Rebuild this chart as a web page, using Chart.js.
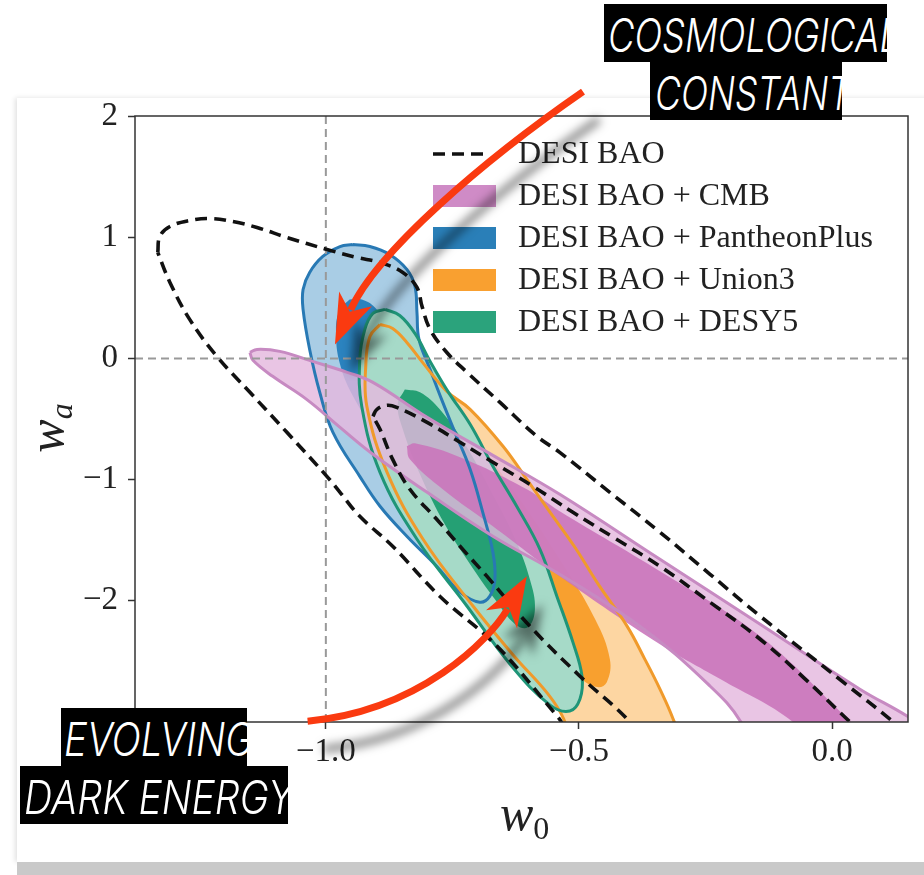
<!DOCTYPE html>
<html>
<head>
<meta charset="utf-8">
<script src="https://cdn.jsdelivr.net/npm/chart.js@4.4.1/dist/chart.umd.min.js"></script>
<style>
  html, body { margin: 0; padding: 0; background: #fff; }
  body { width: 924px; height: 875px; position: relative; overflow: hidden; }
  #card { position: absolute; left: 17px; top: 98px; width: 920px; height: 764px; background: #fff; box-shadow: -2px 0 5px rgba(0,0,0,0.12); }
  #floor { position: absolute; left: 17px; top: 862px; width: 907px; height: 13px; background: #c9c9c9; }
  #chart { position: absolute; left: 0; top: 0; }
  .tag { position: absolute; background: #000; color: #fff; overflow: hidden; white-space: nowrap; }
  .tag span { position: absolute; top: 7px; font-family: 'Inter', 'DejaVu Sans'; font-style: italic; font-weight: 300; font-size: 47px; line-height: 1; transform-origin: 0 50%; }
  .axt { position: absolute; font-family: 'Liberation Serif'; font-style: italic; color: #222; font-size: 50px; line-height: 1; white-space: nowrap; }
  .axt sub { font-style: normal; font-size: 32px; vertical-align: baseline; position: relative; top: 9px; }
</style>
</head>
<body>
<div id="card"></div>
<div id="floor"></div>
<canvas id="chart" width="924" height="875"></canvas>
<div class="axt" id="xt"><i>w</i><sub>0</sub></div>
<div class="axt" id="yt"><i>w</i><sub style="font-style:italic">a</sub></div>
<script>
// axis ranges and ticks
const w0Range = [-1.377, 0.150];
const waRange = [-3, 2];
const w0Ticks = [-1.0, -0.5, 0.0];
const w0TickLabels = ['−1.0', '−0.5', '0.0'];
const waTicks = [-2, -1, 0, 1, 2];
const waTickLabels = ['−2', '−1', '0', '1', '2'];
const lambdaW0 = -1;
const lambdaWa = 0;

const legendLabels = ['DESI BAO', 'DESI BAO + CMB', 'DESI BAO + PantheonPlus', 'DESI BAO + Union3', 'DESI BAO + DESY5'];

// contours, [w0, wa]
const bao95 = [[-1.332,0.874],[-1.328,1.006],[-1.308,1.088],[-1.269,1.138],[-1.229,1.154],[-1.184,1.129],[-1.136,1.080],[-1.077,0.998],[-0.998,0.899],[-0.939,0.833],[-0.893,0.791],[-0.848,0.709],[-0.820,0.585],[-0.810,0.429],[-0.794,0.239],[-0.761,0.049],[-0.721,-0.115],[-0.656,-0.363],[-0.583,-0.643],[-0.538,-0.775],[-0.439,-1.105],[-0.340,-1.434],[-0.241,-1.781],[-0.142,-2.127],[0.022,-2.671],[0.121,-3.001],[0.170,-3.200],[-0.492,-3.200],[-0.543,-2.951],[-0.662,-2.374],[-0.775,-1.962],[-0.868,-1.550],[-0.933,-1.303],[-0.972,-1.105],[-0.998,-0.973],[-1.077,-0.610],[-1.150,-0.280],[-1.215,0.016],[-1.269,0.322],[-1.308,0.627]];
const bao68 = [[-0.907,-0.478],[-0.899,-0.420],[-0.879,-0.387],[-0.860,-0.404],[-0.800,-0.528],[-0.735,-0.692],[-0.670,-0.857],[-0.591,-1.055],[-0.512,-1.270],[-0.429,-1.484],[-0.340,-1.715],[-0.241,-2.012],[-0.142,-2.317],[-0.053,-2.646],[0.036,-3.001],[0.090,-3.200],[-0.370,-3.200],[-0.399,-3.001],[-0.498,-2.622],[-0.597,-2.209],[-0.682,-1.797],[-0.735,-1.550],[-0.781,-1.327],[-0.834,-1.080],[-0.868,-0.833],[-0.893,-0.585]];
const cmb95 = [[-1.150,0.049],[-1.136,0.074],[-1.091,0.058],[-1.026,-0.025],[-0.958,-0.115],[-0.907,-0.198],[-0.800,-0.486],[-0.670,-0.800],[-0.538,-1.121],[-0.340,-1.657],[-0.142,-2.193],[0.055,-2.729],[0.148,-2.951],[0.213,-3.141],[0.253,-3.388],[-0.142,-3.388],[-0.180,-3.001],[-0.245,-2.688],[-0.377,-2.218],[-0.538,-1.781],[-0.670,-1.467],[-0.800,-1.105],[-0.907,-0.791],[-0.972,-0.569],[-1.038,-0.338],[-1.105,-0.148],[-1.144,-0.016]];
const cmb68 = [[-0.840,-0.725],[-0.824,-0.701],[-0.735,-0.816],[-0.603,-1.080],[-0.538,-1.261],[-0.340,-1.756],[-0.142,-2.292],[0.036,-2.993],[0.095,-3.223],[-0.043,-3.223],[-0.077,-3.001],[-0.221,-2.646],[-0.340,-2.358],[-0.538,-1.797],[-0.670,-1.385],[-0.769,-1.080],[-0.834,-0.833]];
const pan95 = [[-0.947,0.940],[-0.913,0.923],[-0.874,0.857],[-0.840,0.734],[-0.824,0.594],[-0.820,0.379],[-0.816,0.157],[-0.794,-0.091],[-0.769,-0.363],[-0.745,-0.610],[-0.715,-0.915],[-0.690,-1.270],[-0.670,-1.599],[-0.666,-1.822],[-0.676,-1.962],[-0.696,-2.012],[-0.735,-1.929],[-0.781,-1.715],[-0.840,-1.467],[-0.893,-1.220],[-0.933,-0.973],[-0.986,-0.610],[-1.012,-0.280],[-1.032,0.074],[-1.045,0.404],[-1.045,0.569],[-1.032,0.709],[-1.006,0.841],[-0.972,0.923]];
const pan68 = [[-0.953,0.486],[-0.929,0.486],[-0.903,0.420],[-0.874,0.239],[-0.834,-0.173],[-0.775,-0.750],[-0.725,-1.327],[-0.715,-1.616],[-0.735,-1.674],[-0.775,-1.492],[-0.834,-1.080],[-0.893,-0.668],[-0.943,-0.338],[-0.972,-0.049],[-0.980,0.239],[-0.972,0.404]];
const uni95 = [[-0.893,0.280],[-0.868,0.247],[-0.840,0.132],[-0.809,-0.033],[-0.761,-0.272],[-0.715,-0.420],[-0.650,-0.725],[-0.603,-0.998],[-0.557,-1.270],[-0.508,-1.558],[-0.462,-1.863],[-0.405,-2.209],[-0.370,-2.481],[-0.340,-2.729],[-0.314,-2.976],[-0.281,-3.388],[-0.496,-3.388],[-0.530,-2.976],[-0.561,-2.770],[-0.628,-2.457],[-0.709,-2.045],[-0.808,-1.492],[-0.879,-0.940],[-0.919,-0.396],[-0.921,-0.049],[-0.913,0.181]];
const uni68 = [[-0.731,-0.602],[-0.700,-0.701],[-0.617,-1.162],[-0.538,-1.657],[-0.468,-2.152],[-0.439,-2.481],[-0.445,-2.671],[-0.464,-2.712],[-0.498,-2.630],[-0.538,-2.399],[-0.617,-1.904],[-0.696,-1.410],[-0.735,-1.039],[-0.745,-0.750]];
const des95 = [[-0.883,0.404],[-0.854,0.354],[-0.824,0.206],[-0.794,-0.025],[-0.759,-0.272],[-0.715,-0.544],[-0.670,-0.890],[-0.623,-1.220],[-0.577,-1.575],[-0.543,-1.970],[-0.512,-2.341],[-0.494,-2.622],[-0.498,-2.811],[-0.518,-2.910],[-0.557,-2.861],[-0.636,-2.523],[-0.721,-2.045],[-0.820,-1.492],[-0.893,-0.940],[-0.929,-0.396],[-0.933,-0.008],[-0.923,0.239],[-0.907,0.371]];
const des68 = [[-0.844,-0.256],[-0.814,-0.280],[-0.775,-0.420],[-0.725,-0.709],[-0.676,-1.080],[-0.626,-1.492],[-0.597,-1.822],[-0.587,-2.069],[-0.601,-2.218],[-0.626,-2.193],[-0.666,-1.987],[-0.715,-1.698],[-0.765,-1.369],[-0.814,-0.956],[-0.848,-0.585],[-0.858,-0.379]];

// arrows: tail, control 1, control 2, tip
const arrowLambda = [[-0.492,2.201],[-0.686,1.641],[-0.899,0.882],[-0.982,0.115]];
const arrowEvolving = [[-1.036,-2.993],[-0.814,-2.910],[-0.676,-2.317],[-0.603,-1.797]];

const pink = { light: 'rgba(228,184,222,0.82)', dark: 'rgba(201,116,187,0.88)', line: '#c78ac2', key: '#cf8bc6' };
const blue = { light: '#a9cde5', dark: '#2b83bf', line: '#2879b4', key: '#2a7fb8' };
const orange = { light: '#fdd6a2', dark: '#f8a02f', line: '#f09a2b', key: '#f9a030' };
const green = { light: '#a6dac8', dark: '#25a074', line: '#1f9578', key: '#2ba37c' };

const pts = arr => arr.concat([arr[0]]).map(([x, y]) => ({ x, y }));
const area = (arr, color, order) => ({ data: pts(arr), backgroundColor: color, borderColor: 'transparent', borderWidth: 0, fill: 'shape', order });
const edge = (arr, color, width, dash, order) => ({ data: pts(arr), borderColor: color, borderWidth: width, borderDash: dash, fill: false, order });

const datasets = [
  area(pan95, blue.light, 20), area(pan68, blue.dark, 19),
  area(uni95, orange.light, 18), area(uni68, orange.dark, 17),
  area(des95, green.light, 16), area(des68, green.dark, 15),
  area(cmb95, pink.light, 14), area(cmb68, pink.dark, 13),
  edge(pan95, blue.line, 3, [], 12),
  edge(uni95, orange.line, 3, [], 11),
  edge(des95, green.line, 3, [], 10),
  edge(cmb95, pink.line, 3, [], 9),
  { data: [{ x: lambdaW0, y: waRange[0] }, { x: lambdaW0, y: waRange[1] }], borderColor: '#999', borderWidth: 2, borderDash: [8, 5], fill: false, tension: 0, order: 8 },
  { data: [{ x: w0Range[0], y: lambdaWa }, { x: w0Range[1], y: lambdaWa }], borderColor: '#999', borderWidth: 2, borderDash: [8, 5], fill: false, tension: 0, order: 8 },
  edge(bao95, '#111', 3.6, [12, 7], 6),
  edge(bao68, '#111', 3.6, [12, 7], 5),
];

const frame = {
  id: 'frame',
  afterDatasetsDraw(chart) {
    const { ctx, chartArea: a } = chart;
    ctx.save();
    ctx.strokeStyle = '#333';
    ctx.lineWidth = 1.5;
    ctx.strokeRect(a.left, a.top, a.right - a.left, a.bottom - a.top);
    ctx.restore();
  }
};

const keys = [null, pink.key, blue.key, orange.key, green.key];
const legendBox = {
  id: 'legendBox',
  afterDatasetsDraw(chart) {
    const { ctx, chartArea: a } = chart;
    ctx.save();
    ctx.font = '32px "Liberation Serif"';
    ctx.textBaseline = 'middle';
    legendLabels.forEach((lab, i) => {
      const y = a.top + 38 + i * 42;
      const x = a.left + 298;
      if (keys[i] === null) {
        ctx.strokeStyle = '#111';
        ctx.lineWidth = 3.6;
        ctx.setLineDash([12, 7]);
        ctx.beginPath();
        ctx.moveTo(x, y);
        ctx.lineTo(x + 52, y);
        ctx.stroke();
        ctx.setLineDash([]);
      } else {
        ctx.fillStyle = keys[i];
        ctx.fillRect(x, y - 11, 63, 22);
      }
      ctx.fillStyle = '#222';
      ctx.fillText(lab, a.left + 383, y + 1);
    });
    ctx.restore();
  }
};

const arrowsPlugin = {
  id: 'arrows',
  afterDraw(chart) {
    const { ctx, scales: { x, y } } = chart;
    const px = p => [x.getPixelForValue(p[0]), y.getPixelForValue(p[1])];
    [arrowLambda, arrowEvolving].forEach(ar => {
      const [p0, c1, c2, tip] = ar.map(px);
      let dx = tip[0] - c2[0], dy = tip[1] - c2[1];
      const len = Math.hypot(dx, dy);
      dx /= len; dy /= len;
      const nx = -dy, ny = dx;
      const headLen = 50, half = 18, notch = 36;
      const end = [tip[0] - dx * (notch + 2), tip[1] - dy * (notch + 2)];
      ctx.save();
      ctx.shadowColor = 'rgba(0,0,0,0.5)';
      ctx.shadowBlur = 10;
      ctx.shadowOffsetX = 16;
      ctx.shadowOffsetY = 28;
      ctx.strokeStyle = '#fa3a10';
      ctx.fillStyle = '#fa3a10';
      ctx.lineWidth = 7;
      ctx.beginPath();
      ctx.moveTo(p0[0], p0[1]);
      ctx.bezierCurveTo(c1[0], c1[1], c2[0], c2[1], end[0], end[1]);
      ctx.stroke();
      ctx.beginPath();
      ctx.moveTo(tip[0], tip[1]);
      ctx.lineTo(tip[0] - dx * headLen + nx * half, tip[1] - dy * headLen + ny * half);
      ctx.lineTo(tip[0] - dx * notch, tip[1] - dy * notch);
      ctx.lineTo(tip[0] - dx * headLen - nx * half, tip[1] - dy * headLen - ny * half);
      ctx.closePath();
      ctx.fill();
      ctx.restore();
    });
  }
};

const tickFont = { family: '"Liberation Serif", serif', size: 33 };

new Chart(document.getElementById('chart'), {
  type: 'line',
  data: { datasets },
  options: {
    responsive: false,
    animation: false,
    devicePixelRatio: 1,
    layout: { padding: { left: 0, top: 116, right: 16, bottom: 0 } },
    elements: {
      line: { tension: 0.4, capBezierPoints: false },
      point: { radius: 0, hoverRadius: 0 }
    },
    plugins: { legend: { display: false }, tooltip: { enabled: false } },
    scales: {
      x: {
        type: 'linear',
        min: w0Range[0],
        max: w0Range[1],
        afterFit: s => { s.height = 153; },
        afterBuildTicks: s => { s.ticks = w0Ticks.map(v => ({ value: v })); },
        ticks: { font: tickFont, color: '#222', padding: 4, maxRotation: 0, callback: (v, i) => w0TickLabels[i] },
        grid: { drawOnChartArea: false, drawTicks: true, tickLength: 7, tickColor: '#333', tickWidth: 1.5 },
        border: { display: false }
      },
      y: {
        type: 'linear',
        min: waRange[0],
        max: waRange[1],
        afterFit: s => { s.width = 135; },
        afterBuildTicks: s => { s.ticks = waTicks.map(v => ({ value: v })); },
        ticks: { font: tickFont, color: '#222', padding: 10, callback: (v, i) => waTickLabels[i] },
        grid: { drawOnChartArea: false, drawTicks: true, tickLength: 7, tickColor: '#333', tickWidth: 1.5 },
        border: { display: false }
      }
    }
  },
  plugins: [frame, legendBox, arrowsPlugin]
});

// axis titles
const xt = document.getElementById('xt');
xt.style.left = '500px';
xt.style.top = '788px';
const yt = document.getElementById('yt');
yt.style.width = '80px';
yt.style.textAlign = 'center';
yt.style.left = (46 - 40) + 'px';
yt.style.top = (428 - 25) + 'px';
yt.style.transform = 'rotate(-90deg)';

// hand-lettered labels
const tags = [
  { text: 'COSMOLOGICAL', box: [604, 4, 283, 58], dx: 4, w: 292 },
  { text: 'CONSTANT', box: [650, 62, 192, 58], dx: 5, w: 196 },
  { text: 'EVOLVING', box: [61, 708, 186, 58], dx: 3, w: 190 },
  { text: 'DARK ENERGY', box: [20, 766, 268, 58], dx: 4, w: 270 }
];
tags.forEach(t => {
  const d = document.createElement('div');
  d.className = 'tag';
  d.style.left = t.box[0] + 'px';
  d.style.top = t.box[1] + 'px';
  d.style.width = t.box[2] + 'px';
  d.style.height = t.box[3] + 'px';
  const s = document.createElement('span');
  s.textContent = t.text;
  s.style.left = t.dx + 'px';
  d.appendChild(s);
  document.body.appendChild(d);
  const w = s.getBoundingClientRect().width;
  s.style.transform = 'scaleX(' + (t.w / w) + ')';
});
</script>
</body>
</html>
